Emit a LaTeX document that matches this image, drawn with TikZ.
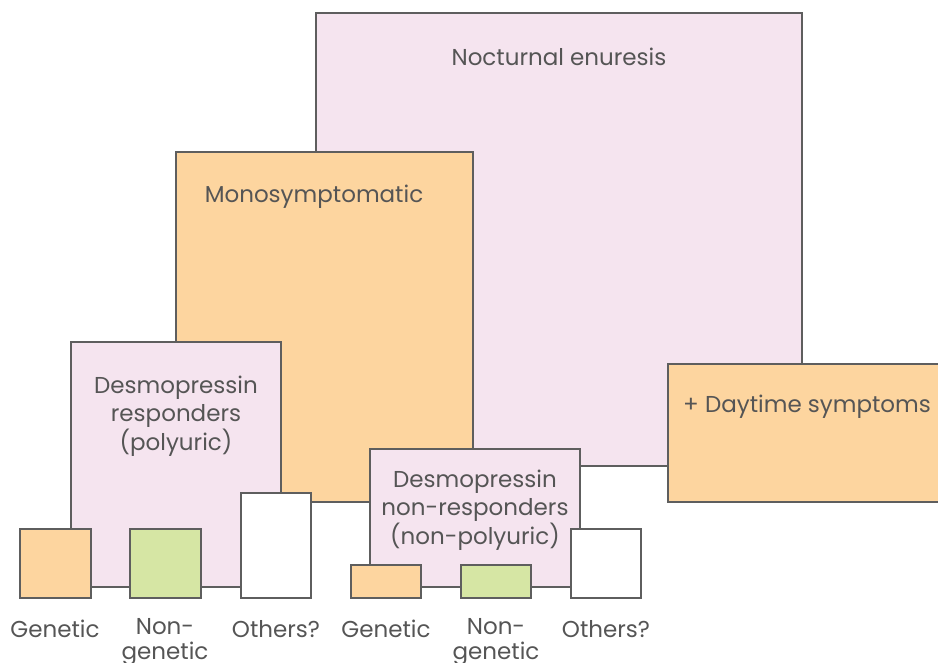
\documentclass[tikz,border=0pt]{standalone}
\usepackage{fontspec}
\setmainfont{Poppins}
\definecolor{pinkfill}{HTML}{F5E4EF}
\definecolor{orangefill}{HTML}{FDD59F}
\definecolor{greenfill}{HTML}{D6E6A4}
\definecolor{edgegray}{HTML}{5E5E5E}
\definecolor{txtgray}{HTML}{555555}
\begin{document}
\begin{tikzpicture}[x=1pt,y=-1pt,
  box/.style={draw=edgegray, line width=2.7pt, anchor=north west, inner sep=0pt, outer sep=0pt},
  pinkbox/.style={box, fill=pinkfill},
  orangebox/.style={box, fill=orangefill},
  greenbox/.style={box, fill=greenfill},
  whitebox/.style={box, fill=white},
  lbl/.style={text=txtgray, font=\fontsize{23}{28.5}\selectfont, inner sep=0pt, align=center},
  btm/.style={lbl, font=\fontsize{23}{25}\selectfont}]
\useasboundingbox (0,0) rectangle (938,662);
\clip (0,0) rectangle (938,662);
% main boxes
\node[pinkbox, minimum width=486pt, minimum height=453pt] (ne) at (316,13) {};
\node[lbl] (netext) at (559,57) {Nocturnal enuresis};
\node[orangebox, minimum width=297pt, minimum height=350pt] (mono) at (176,152) {};
\node[lbl] (monotext) at (314,197) {Monosymptomatic};
\node[orangebox, minimum width=300pt, minimum height=138pt] (day) at (668,364) {};
\node[lbl, anchor=west] (daytext) at (683,407) {+ Daytime symptoms};
\node[pinkbox, minimum width=210pt, minimum height=245pt] (resp) at (71,342) {};
\node[lbl] (resptext) at (176,416) {Desmopressin\\responders\\(polyuric)};
\node[pinkbox, minimum width=210pt, minimum height=138pt] (nonresp) at (370,449) {};
\node[lbl] (nonresptext) at (475,510) {Desmopressin\\non-responders\\(non-polyuric)};
% small boxes left
\node[orangebox, minimum width=71pt, minimum height=69pt] (g1) at (20,529) {};
\node[greenbox, minimum width=71pt, minimum height=69pt] (n1) at (130,529) {};
\node[whitebox, minimum width=70pt, minimum height=105pt] (o1) at (241,493) {};
% small boxes right
\node[orangebox, minimum width=70pt, minimum height=33pt] (g2) at (351,565) {};
\node[greenbox, minimum width=70pt, minimum height=33pt] (n2) at (461,565) {};
\node[whitebox, minimum width=70pt, minimum height=69pt] (o2) at (571,529) {};
% labels
\node[btm] (g1t) at (55,629) {Genetic};
\node[btm, anchor=north] (n1t) at (165,618) {Non-\\genetic};
\node[btm] (o1t) at (276,629) {Others?};
\node[btm] (g2t) at (386,629) {Genetic};
\node[btm, anchor=north] (n2t) at (496,618) {Non-\\genetic};
\node[btm] (o2t) at (606,629) {Others?};
\end{tikzpicture}
\end{document}
